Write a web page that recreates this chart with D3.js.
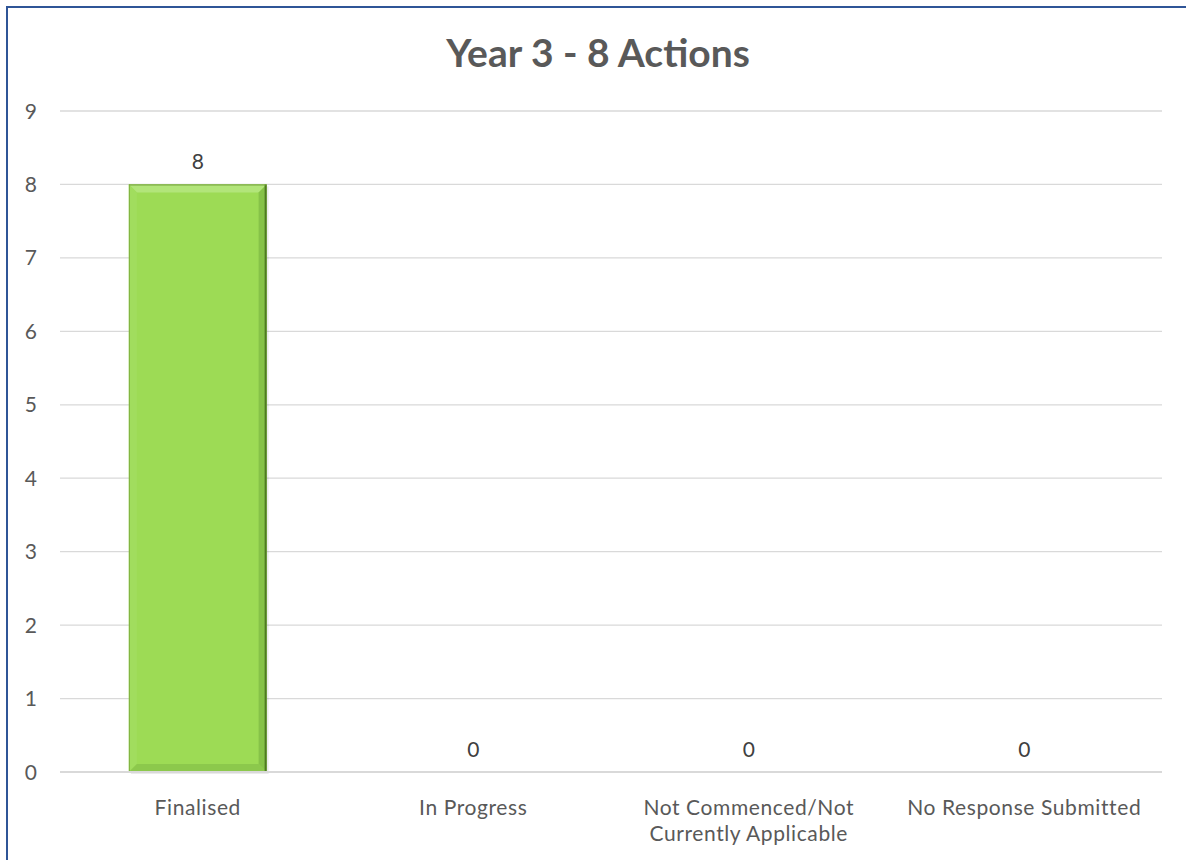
<!DOCTYPE html>
<html><head><meta charset="utf-8">
<script src="https://cdn.jsdelivr.net/npm/d3@7"></script>
<style>body{margin:0;background:#fff}svg{display:block}text{font-family:Lato,"Open Sans",sans-serif}</style>
</head><body>
<svg id="c" width="1186" height="860"></svg>
<script>
const categories = ["Finalised", "In Progress", "Not Commenced/Not Currently Applicable", "No Response Submitted"];
const categoryLines = [["Finalised"], ["In Progress"], ["Not Commenced/Not", "Currently Applicable"], ["No Response Submitted"]];
const values = [8, 0, 0, 0];
const yTicks = [0, 1, 2, 3, 4, 5, 6, 7, 8, 9];
const title = "Year 3 - 8 Actions";

const svg = d3.select("#c");
// outer border
svg.append("rect").attr("x", 7).attr("y", 7).attr("width", 1186).attr("height", 870)
  .attr("fill", "none").attr("stroke", "#2f5597").attr("stroke-width", 2);

const x = d3.scaleBand().domain(categories).range([60, 1162]).paddingInner(0.5).paddingOuter(0.25);
const y = d3.scaleLinear().domain([0, 9]).range([772, 111]);

// gridlines
svg.append("g").selectAll("line").data(yTicks.filter(d => d > 0)).join("line")
  .attr("x1", 60).attr("x2", 1162).attr("y1", d => y(d)).attr("y2", d => y(d))
  .attr("stroke", "#d9d9d9").attr("stroke-width", 1.3);

// y tick labels
svg.append("g").selectAll("text").data(yTicks).join("text")
  .attr("x", 37).attr("y", d => y(d)).attr("dy", "0.36em").attr("text-anchor", "end")
  .attr("font-size", 21).attr("fill", "#595959").text(d => d);

// bars with bevel
const g = svg.append("g");
values.forEach((v, i) => {
  if (v <= 0) return;
  const x0 = x(categories[i]), w = x.bandwidth();
  const y0 = y(v), y1 = y(0), b = 8;
  g.append("rect").attr("x", x0 + 2).attr("y", y0 + 2).attr("width", w).attr("height", y1 - y0).attr("fill", "#000").attr("opacity", 0.08);
  g.append("rect").attr("x", x0).attr("y", y0).attr("width", w).attr("height", y1 - y0).attr("fill", "#9ddb55");
  g.append("polygon").attr("points", [[x0, y0], [x0 + w, y0], [x0 + w - b, y0 + b], [x0 + b, y0 + b]].join(" ")).attr("fill", "#b2e57a");
  g.append("polygon").attr("points", [[x0, y0], [x0 + b, y0 + b], [x0 + b, y1 - b], [x0, y1]].join(" ")).attr("fill", "#a1dd5e");
  g.append("polygon").attr("points", [[x0 + w, y0], [x0 + w - b, y0 + b], [x0 + w - b, y1 - b], [x0 + w, y1]].join(" ")).attr("fill", "#86c248");
  g.append("polygon").attr("points", [[x0, y1], [x0 + b, y1 - b], [x0 + w - b, y1 - b], [x0 + w, y1]].join(" ")).attr("fill", "#8cc84c");
  g.append("line").attr("x1", x0 + w - 1).attr("x2", x0 + w - 1).attr("y1", y0).attr("y2", y1).attr("stroke", "#4f7a22").attr("stroke-width", 2);
  g.append("line").attr("x1", x0).attr("x2", x0 + w).attr("y1", y0 + 0.5).attr("y2", y0 + 0.5).attr("stroke", "#6f9d37").attr("stroke-width", 1);
  g.append("line").attr("x1", x0 + 0.5).attr("x2", x0 + 0.5).attr("y1", y0).attr("y2", y1).attr("stroke", "#7fb03f").attr("stroke-width", 1);
});

// x axis line
svg.append("line").attr("x1", 60).attr("x2", 1162).attr("y1", y(0)).attr("y2", y(0))
  .attr("stroke", "#d9d9d9").attr("stroke-width", 2);

// value labels
svg.append("g").selectAll("text").data(values).join("text")
  .attr("x", (d, i) => x(categories[i]) + x.bandwidth() / 2)
  .attr("y", d => y(d) - 15).attr("text-anchor", "middle")
  .attr("font-size", 21).attr("fill", "#404040").text(d => d);

// category labels
const cl = svg.append("g");
categories.forEach((c, i) => {
  const cx = x(c) + x.bandwidth() / 2;
  const t = cl.append("text").attr("x", cx).attr("y", 815)
    .attr("text-anchor", "middle").attr("font-size", 21).attr("letter-spacing", 0.6).attr("fill", "#595959");
  categoryLines[i].forEach((ln, j) => t.append("tspan").attr("x", cx).attr("dy", j ? 26 : 0).text(ln));
});

// title
svg.append("text").attr("x", 598).attr("y", 67).attr("text-anchor", "middle")
  .attr("font-size", 39).attr("font-weight", "bold").attr("fill", "#595959").text(title);
</script>
</body></html>
